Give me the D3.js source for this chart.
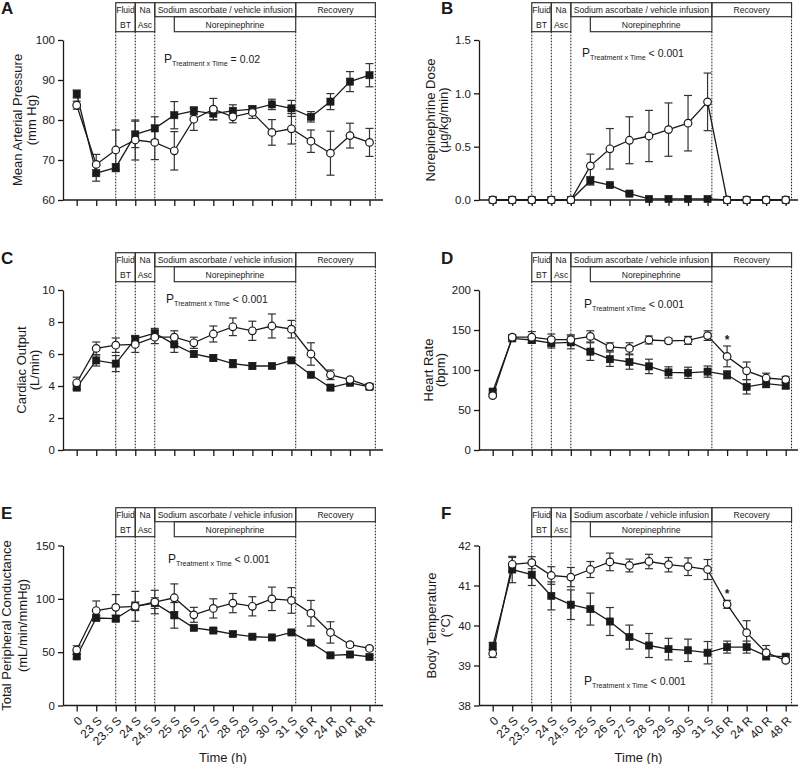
<!DOCTYPE html>
<html><head><meta charset="utf-8">
<script src="https://cdn.jsdelivr.net/npm/d3@7"></script>
<style>
body{margin:0;background:#fff}
svg{display:block;font-family:"Liberation Sans",Arial,Helvetica,sans-serif}
</style>
</head><body><svg id="chart" width="800" height="764"></svg>
<script>
// ---------- data ----------
const categories = ["0","23 S","23.5 S","24 S","24.5 S","25 S","26 S","27 S","28 S","29 S","30 S","31 S","16 R","24 R","40 R","48 R"];

// A: Mean arterial pressure (mm Hg)
const mapVehicle      = [83.7, 68.9, 72.5, 75.0, 74.4, 72.3, 80.2, 82.7, 80.8, 81.9, 76.9, 77.8, 74.7, 71.7, 76.1, 74.4];
const mapVehicleErr   = [1.0, 2.5, 5.0, 5.0, 4.3, 4.8, 2.8, 2.7, 1.5, 1.5, 3.2, 3.8, 2.8, 5.5, 3.1, 3.5];
const mapAscorbate    = [86.5, 66.7, 68.1, 76.4, 77.9, 81.2, 82.3, 81.6, 82.3, 82.7, 83.9, 82.9, 80.8, 84.6, 89.6, 91.2];
const mapAscorbateErr = [1.0, 2.0, 1.0, 3.3, 2.9, 3.4, 1.0, 1.5, 1.5, 0.8, 1.3, 2.0, 1.3, 2.0, 2.5, 2.9];
const mapTicks = [60, 70, 80, 90, 100];

// B: Norepinephrine dose (µg/kg/min)
const neVehicle      = [0, 0, 0, 0, 0, 0.32, 0.48, 0.56, 0.60, 0.66, 0.72, 0.92, 0, 0, 0, 0];
const neVehicleErr   = [0, 0, 0, 0, 0, 0.11, 0.19, 0.22, 0.24, 0.25, 0.26, 0.27, 0, 0, 0, 0];
const neAscorbate    = [0, 0, 0, 0, 0, 0.18, 0.14, 0.06, 0.01, 0.01, 0.01, 0.01, 0, 0, 0, 0];
const neAscorbateErr = [0, 0, 0, 0, 0, 0.04, 0.01, 0.01, 0, 0, 0, 0, 0, 0, 0, 0];
const neTicks = [0, 0.5, 1.0, 1.5];

// C: Cardiac output (L/min)
const coVehicle      = [4.2, 6.35, 6.55, 6.6, 7.05, 7.05, 6.7, 7.25, 7.7, 7.45, 7.75, 7.55, 6.0, 4.7, 4.4, 3.97];
const coVehicleErr   = [0.35, 0.4, 0.45, 0.5, 0.4, 0.4, 0.35, 0.5, 0.55, 0.6, 0.75, 0.55, 0.7, 0.3, 0.1, 0.15];
const coAscorbate    = [3.9, 5.6, 5.4, 6.95, 7.3, 6.6, 6.0, 5.75, 5.4, 5.25, 5.25, 5.6, 4.7, 3.9, 4.2, 3.95];
const coAscorbateErr = [0.15, 0.35, 0.5, 0.15, 0.3, 0.5, 0.2, 0.2, 0.25, 0.2, 0.15, 0.15, 0.1, 0.15, 0.1, 0.15];
const coTicks = [0, 2, 4, 6, 8, 10];

// D: Heart rate (bpm)
const hrVehicle      = [68, 141, 141, 138, 138, 142, 129, 127, 137.5, 136.5, 137, 143, 117, 99, 90, 88];
const hrVehicleErr   = [2, 3, 7, 7, 6, 7, 5, 7, 5, 3, 5, 6, 13, 11, 6, 4];
const hrAscorbate    = [73, 139.5, 137.5, 133.5, 134.5, 123, 113.5, 110, 104.5, 97, 96.5, 98, 94, 79, 83, 80.5];
const hrAscorbateErr = [2, 2, 4, 6, 8, 11, 9, 9, 9, 7, 7, 7, 5, 9, 5, 4];
const hrTicks = [0, 50, 100, 150, 200];

// E: Total peripheral conductance (mL/min/mmHg)
const tpcVehicle      = [52, 89, 92, 93, 97, 101, 85, 91, 96, 93, 100, 98.5, 86.5, 68.5, 57, 53.5];
const tpcVehicleErr   = [4, 9, 12, 14, 11, 13, 7, 9, 9, 9, 11, 12, 12, 10, 2, 1.5];
const tpcAscorbate    = [46, 82, 81.5, 93, 96, 84.5, 72.8, 70.3, 67, 64.5, 63.8, 68.5, 59, 47, 47.8, 45.5];
const tpcAscorbateErr = [2, 2, 3, 4, 5, 12, 2, 2, 2, 1.5, 1.5, 1.5, 1.5, 1.5, 1.5, 1.5];
const tpcTicks = [0, 50, 100, 150];

// F: Body temperature (°C)
const tempVehicle      = [39.3, 41.53, 41.57, 41.25, 41.21, 41.4, 41.59, 41.5, 41.6, 41.52, 41.47, 41.4, 40.53, 39.82, 39.32, 39.13];
const tempVehicleErr   = [0.1, 0.17, 0.15, 0.22, 0.24, 0.2, 0.22, 0.16, 0.18, 0.18, 0.22, 0.25, 0.1, 0.3, 0.18, 0.05];
const tempAscorbate    = [39.48, 41.4, 41.27, 40.74, 40.52, 40.41, 40.1, 39.71, 39.5, 39.41, 39.38, 39.32, 39.46, 39.46, 39.24, 39.22];
const tempAscorbateErr = [0.1, 0.33, 0.27, 0.35, 0.37, 0.4, 0.35, 0.3, 0.3, 0.27, 0.28, 0.28, 0.15, 0.15, 0.08, 0.05];
const tempTicks = [38, 39, 40, 41, 42];

const phaseLabels = {fluid: ["Fluid", "BT"], naAsc: ["Na", "Asc"], infusion: "Sodium ascorbate / vehicle infusion", ne: "Norepinephrine", recovery: "Recovery"};
const xTitle = "Time (h)";

// ---------- layout ----------
const cols = [
  {axisX: 63, x0: 76.7, x1: 369.5, xEnd: 383},
  {axisX: 479, x0: 492.7, x1: 785.7, xEnd: 798}
];
const rows = [
  {top: 40, bottom: 200, boxTop: 2.7},
  {top: 290, bottom: 450, boxTop: 252.7},
  {top: 545.5, bottom: 705.5, boxTop: 507.7}
];

const panels = [
  {letter: "A", col: 0, row: 0, domain: [60, 100], ticks: mapTicks, fmt: d3.format("d"),
   ylab: ["Mean Arterial Pressure", "(mm Hg)"], yl: [22, 36],
   veh: mapVehicle, vehErr: mapVehicleErr, asc: mapAscorbate, ascErr: mapAscorbateErr,
   p: {sub: "Treatment x Time", rest: " = 0.02", x: 164, y: 63}, star: null},
  {letter: "B", col: 1, row: 0, domain: [0, 1.5], ticks: neTicks, fmt: d3.format(".1f"),
   ylab: ["Norepinephrine Dose", "(µg/kg/min)"], yl: [435, 448],
   veh: neVehicle, vehErr: neVehicleErr, asc: neAscorbate, ascErr: neAscorbateErr,
   p: {sub: "Treatment x Time", rest: " < 0.001", x: 582, y: 56.5}, star: null},
  {letter: "C", col: 0, row: 1, domain: [0, 10], ticks: coTicks, fmt: d3.format("d"),
   ylab: ["Cardiac Output", "(L/min)"], yl: [25.5, 39],
   veh: coVehicle, vehErr: coVehicleErr, asc: coAscorbate, ascErr: coAscorbateErr,
   p: {sub: "Treatment x Time", rest: " < 0.001", x: 166, y: 302.5}, star: null},
  {letter: "D", col: 1, row: 1, domain: [0, 200], ticks: hrTicks, fmt: d3.format("d"),
   ylab: ["Heart Rate", "(bpm)"], yl: [433, 444.5],
   veh: hrVehicle, vehErr: hrVehicleErr, asc: hrAscorbate, ascErr: hrAscorbateErr,
   p: {sub: "Treatment xTime", rest: " < 0.001", x: 584, y: 308}, star: 12},
  {letter: "E", col: 0, row: 2, domain: [0, 150], ticks: tpcTicks, fmt: d3.format("d"),
   ylab: ["Total Peripheral Conductance", "(mL/min/mmHg)"], yl: [11, 27],
   veh: tpcVehicle, vehErr: tpcVehicleErr, asc: tpcAscorbate, ascErr: tpcAscorbateErr,
   p: {sub: "Treatment x Time", rest: " < 0.001", x: 168, y: 562.5}, star: null},
  {letter: "F", col: 1, row: 2, domain: [38, 42], ticks: tempTicks, fmt: d3.format("d"),
   ylab: ["Body Temperature", "(°C)"], yl: [435.5, 450],
   veh: tempVehicle, vehErr: tempVehicleErr, asc: tempAscorbate, ascErr: tempAscorbateErr,
   p: {sub: "Treatment x Time", rest: " < 0.001", x: 584, y: 685}, star: 12}
];

const INK = "#1a1a1a";
const svg = d3.select("#chart");

panels.forEach(pn => {
  const c = cols[pn.col], r = rows[pn.row];
  const g = svg.append("g");
  const x = d3.scalePoint().domain(categories).range([c.x0, c.x1]);
  const xi = d3.scaleLinear().domain([0, categories.length - 1]).range([c.x0, c.x1]);
  const y = d3.scaleLinear().domain(pn.domain).range([r.bottom, r.top]);

  // phase boundaries (in category-index units)
  const b = {fluid: 2, na: 3, inf: 4, ne: 5, end: 11.22, rec: 15.3};
  const rowH = 14, boxH = 29;

  // dashed lines
  const dash = g.append("g").attr("stroke", INK).attr("stroke-width", 1).attr("stroke-dasharray", "1.6,1.4");
  [b.fluid, b.na, b.inf, b.end].forEach(v => {
    dash.append("line").attr("x1", xi(v)).attr("x2", xi(v)).attr("y1", r.boxTop + boxH).attr("y2", r.bottom);
  });
  dash.append("line").attr("x1", xi(b.rec)).attr("x2", xi(b.rec)).attr("y1", r.boxTop + rowH).attr("y2", r.bottom);

  // phase boxes
  const boxes = g.append("g").attr("fill", "none").attr("stroke", "#333").attr("stroke-width", 1.2);
  const rect = (a, bb, t, h) => boxes.append("rect").attr("x", xi(a)).attr("y", t).attr("width", xi(bb) - xi(a)).attr("height", h);
  rect(b.fluid, b.na, r.boxTop, boxH);
  rect(b.na, b.inf, r.boxTop, boxH);
  rect(b.inf, b.end, r.boxTop, rowH);
  rect(b.ne, b.end, r.boxTop + rowH, boxH - rowH);
  rect(b.end, b.rec, r.boxTop, rowH);

  const bt = g.append("g").attr("font-size", 8.6).attr("fill", INK).attr("text-anchor", "middle");
  const t1 = r.boxTop + 10.3, t2 = r.boxTop + 24.8;
  bt.append("text").attr("x", (xi(b.fluid) + xi(b.na)) / 2).attr("y", t1).text(phaseLabels.fluid[0]);
  bt.append("text").attr("x", (xi(b.fluid) + xi(b.na)) / 2).attr("y", t2).text(phaseLabels.fluid[1]);
  bt.append("text").attr("x", (xi(b.na) + xi(b.inf)) / 2).attr("y", t1).text(phaseLabels.naAsc[0]);
  bt.append("text").attr("x", (xi(b.na) + xi(b.inf)) / 2).attr("y", t2).text(phaseLabels.naAsc[1]);
  bt.append("text").attr("x", (xi(b.inf) + xi(b.end)) / 2).attr("y", t1).text(phaseLabels.infusion);
  bt.append("text").attr("x", (xi(b.ne) + xi(b.end)) / 2).attr("y", t2).text(phaseLabels.ne);
  bt.append("text").attr("x", (xi(b.end) + xi(b.rec)) / 2).attr("y", t1).text(phaseLabels.recovery);

  // y axis
  const ya = g.append("g").attr("transform", `translate(${c.axisX},0)`)
    .call(d3.axisLeft(y).tickValues(pn.ticks).tickFormat(pn.fmt).tickSize(5).tickPadding(3).tickSizeOuter(0));
  ya.select(".domain").attr("stroke", INK).attr("stroke-width", 1.3);
  ya.selectAll(".tick line").attr("stroke", INK).attr("stroke-width", 1.3);
  ya.selectAll(".tick text").attr("font-size", 11.5).attr("fill", INK).attr("font-family", "Liberation Sans, Arial, sans-serif");

  // x axis
  const xa = g.append("g").attr("transform", `translate(0,${r.bottom})`)
    .call(d3.axisBottom(x).tickSize(6).tickSizeOuter(0));
  xa.select(".domain").remove();
  xa.selectAll(".tick line").attr("stroke", INK).attr("stroke-width", 1.3);
  g.append("line").attr("x1", c.axisX).attr("x2", c.xEnd).attr("y1", r.bottom).attr("y2", r.bottom)
    .attr("stroke", INK).attr("stroke-width", 1.3);
  if (pn.row === 2) {
    xa.selectAll(".tick text")
      .attr("font-size", 12).attr("fill", INK).attr("font-family", "Liberation Sans, Arial, sans-serif")
      .attr("x", 0).attr("y", 0).attr("dy", "0.35em")
      .attr("text-anchor", "end")
      .attr("transform", "translate(3,13) rotate(-45)");
    g.append("text").attr("x", (c.axisX + c.xEnd) / 2).attr("y", 762).attr("text-anchor", "middle")
      .attr("font-size", 13).attr("fill", INK).text(xTitle);
  } else {
    xa.selectAll(".tick text").remove();
  }

  // y label
  const cy = (r.top + r.bottom) / 2;
  pn.ylab.forEach((t, i) => {
    g.append("text").attr("transform", `translate(${pn.yl[i]},${cy}) rotate(-90)`)
      .attr("text-anchor", "middle").attr("font-size", 13).attr("fill", INK).text(t);
  });

  // panel letter
  g.append("text").attr("x", pn.col === 0 ? 1 : 441).attr("y", r.boxTop + 11.5)
    .attr("font-size", 17).attr("font-weight", "bold").attr("fill", INK).text(pn.letter);

  // P annotation
  const pt = g.append("text").attr("x", pn.p.x).attr("y", pn.p.y).attr("fill", INK).attr("font-size", 12);
  pt.append("tspan").text("P");
  pt.append("tspan").attr("font-size", 7.2).attr("dy", 3).text(pn.p.sub);
  pt.append("tspan").attr("font-size", 10.5).attr("dy", -3).text(pn.p.rest);

  // series
  const idx = d3.range(categories.length);
  const series = [
    {v: pn.asc, e: pn.ascErr, kind: "sq"},
    {v: pn.veh, e: pn.vehErr, kind: "ci"}
  ];
  const eb = g.append("g").attr("stroke", "#333").attr("stroke-width", 1.2);
  series.forEach(s => {
    idx.forEach(i => {
      if (!s.e[i]) return;
      const xx = x(categories[i]);
      const yt = y(s.v[i] + s.e[i]), yb = y(s.v[i] - s.e[i]);
      eb.append("line").attr("x1", xx).attr("x2", xx).attr("y1", yt).attr("y2", yb);
      eb.append("line").attr("x1", xx - 4).attr("x2", xx + 4).attr("y1", yt).attr("y2", yt);
      eb.append("line").attr("x1", xx - 4).attr("x2", xx + 4).attr("y1", yb).attr("y2", yb);
    });
  });
  series.forEach(s => {
    g.append("path")
      .attr("d", d3.line().x(i => x(categories[i])).y(i => y(s.v[i]))(idx))
      .attr("fill", "none").attr("stroke", INK).attr("stroke-width", 1.3);
  });
  // squares (ascorbate)
  g.append("g").selectAll("rect").data(idx).join("rect")
    .attr("x", i => x(categories[i]) - 3.6).attr("y", i => y(pn.asc[i]) - 3.6)
    .attr("width", 7.2).attr("height", 7.2).attr("fill", INK).attr("stroke", INK).attr("stroke-width", 0.6);
  // circles (vehicle)
  g.append("g").selectAll("circle").data(idx).join("circle")
    .attr("cx", i => x(categories[i])).attr("cy", i => y(pn.veh[i])).attr("r", 3.8)
    .attr("fill", "#fff").attr("stroke", INK).attr("stroke-width", 1.2);

  if (pn.star !== null) {
    const i = pn.star;
    g.append("text").attr("x", x(categories[i])).attr("y", y(pn.veh[i] + pn.vehErr[i]) - 2)
      .attr("text-anchor", "middle").attr("font-size", 12).attr("font-weight", "bold").attr("fill", INK).text("*");
  }
});
</script>
</body></html>
